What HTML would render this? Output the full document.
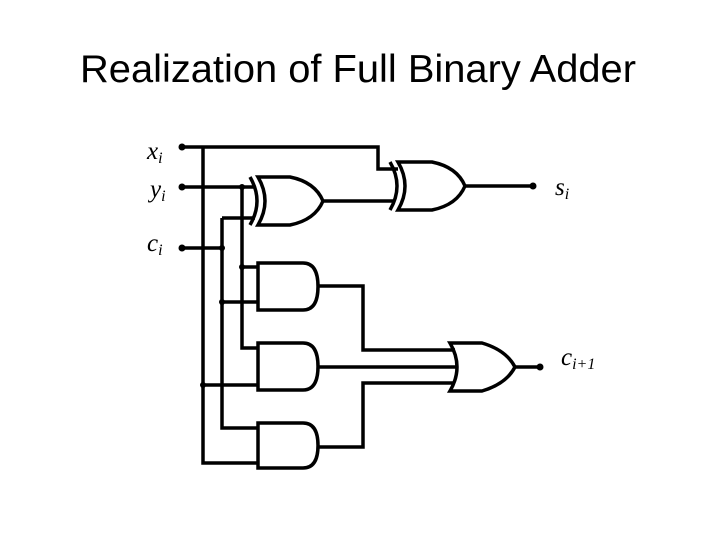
<!DOCTYPE html>
<html><head><style>
body{margin:0;background:#fff;width:720px;height:540px;overflow:hidden}
</style></head><body>
<svg width="720" height="540" xmlns="http://www.w3.org/2000/svg">
<text x="358" y="82" text-anchor="middle" font-family="Liberation Sans, sans-serif" font-size="39" fill="#000" textLength="556" lengthAdjust="spacingAndGlyphs">Realization of Full Binary Adder</text>
<g font-family="Liberation Serif, serif" font-style="italic" font-size="25" fill="#000">
<text x="147" y="159">x<tspan font-size="16" dy="4">i</tspan></text>
<text x="150" y="197">y<tspan font-size="16" dy="4">i</tspan></text>
<text x="147" y="251">c<tspan font-size="16" dy="4">i</tspan></text>
<text x="555" y="195">s<tspan font-size="16" dy="4">i</tspan></text>
<text x="561" y="365">c<tspan font-size="16" dy="4">i+1</tspan></text>
</g>
<g stroke="#000" stroke-width="3.5" fill="none">
<path d="M182 147 H378 V169 H398"/>
<path d="M203 147 V463 H258"/>
<path d="M182 187 H255"/>
<path d="M242 187 V348 H258"/>
<path d="M182 248 H222"/>
<path d="M222 218 H255"/>
<path d="M222 218 V428 H258"/>
<path d="M242 267 H258"/>
<path d="M222 302 H258"/>
<path d="M203 385 H258"/>
<path d="M323 201 H395"/>
<path d="M465 186 H533"/>
<path d="M318 286 H363 V350 H455"/>
<path d="M318 367 H458"/>
<path d="M318 447 H363 V383 H455"/>
<path d="M515 367 H540"/>
<path d="M258 177 H290 Q315 182 323 201 Q315 220 290 225 H258 Q272 201 258 177 Z"/>
<path d="M250 177 Q264 201 250 225"/>
<path d="M398 162 H432 Q457 167 465 186 Q457 205 432 210 H398 Q412 186 398 162 Z"/>
<path d="M390 162 Q404 186 390 210"/>
<path d="M258 263 H303 Q318 263 318 286.5 Q318 310 303 310 H258 Z"/>
<path d="M258 343 H303 Q318 343 318 366.5 Q318 390 303 390 H258 Z"/>
<path d="M258 423 H303 Q318 423 318 445.5 Q318 468 303 468 H258 Z"/>
<path d="M450 343 H482 Q506 350 515 367 Q506 384 482 391 H450 Q464 367 450 343 Z"/>
</g>
<g fill="#000">
<circle cx="182" cy="147" r="3.5"/><circle cx="182" cy="187" r="3.5"/><circle cx="182" cy="248" r="3.5"/>
<circle cx="242" cy="187" r="3"/><circle cx="222" cy="248" r="3"/><circle cx="242" cy="267" r="3"/>
<circle cx="222" cy="302" r="3"/><circle cx="203" cy="385" r="3"/>
<circle cx="533" cy="186" r="3.5"/><circle cx="540" cy="367" r="3.5"/>
</g>
</svg>
</body></html>
